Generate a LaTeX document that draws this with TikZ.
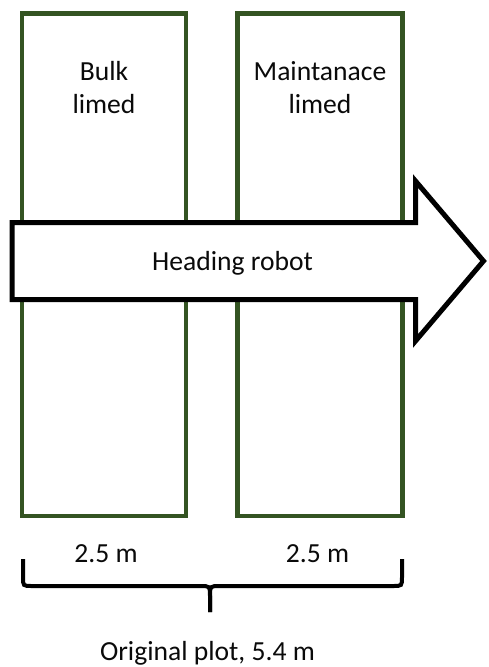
\documentclass[tikz,border=0pt]{standalone}
\usepackage{fontspec}
\setmainfont{Carlito}
\definecolor{plotgreen}{RGB}{52,84,34}
\definecolor{inkblack}{RGB}{10,10,10}
\tikzset{
  plotbox/.style={draw=plotgreen, line width=4.6pt, fill=white},
  lbl/.style={font=\fontsize{27.6}{33}\selectfont, text=inkblack, inner sep=0pt, anchor=base},
  robotarrow/.style={draw=black, line width=5pt, fill=white, line join=miter, miter limit=10},
  bracepath/.style={draw=black, line width=4pt}
}
\begin{document}
\begin{tikzpicture}[x=1pt, y=-1pt]
  \useasboundingbox (0,0) rectangle (488,667);

  % the two plots
  \draw[plotbox] (22,13.5) rectangle (186,516);
  \draw[plotbox] (237.5,13.5) rectangle (402.5,516);
  \node[lbl] (bulk1) at (104,80) {Bulk};
  \node[lbl] (bulk2) at (104,113) {limed};
  \node[lbl] (maint1) at (320,80) {Maintanace};
  \node[lbl] (maint2) at (320,113) {limed};

  % driving direction of the robot
  \coordinate (a1) at (12,222.5);
  \coordinate (a2) at (415.5,222.5);
  \coordinate (a3) at (415.5,181);
  \coordinate (tip) at (483.5,261);
  \coordinate (a5) at (415.5,341);
  \coordinate (a6) at (415.5,299.5);
  \coordinate (a7) at (12,299.5);
  \draw[robotarrow] (a1) -- (a2) -- (a3) -- (tip) -- (a5) -- (a6) -- (a7) -- cycle;
  \node[lbl] (heading) at (232.5,270) {Heading robot};

  % widths
  \node[lbl] (w1) at (106,562) {2.5 m};
  \node[lbl] (w2) at (317.5,562) {2.5 m};

  % brace under both plots
  \coordinate (bl) at (23,559);
  \coordinate (br) at (402,559);
  \coordinate (bm) at (210,612);
  \draw[bracepath] (bl) -- (23,577) .. controls (23,586) .. (32,586)
      -- (200,586) .. controls (210,586) .. (210,596) -- (bm);
  \draw[bracepath] (br) -- (402,577) .. controls (402,586) .. (393,586)
      -- (220,586) .. controls (210,586) .. (210,596) -- (bm);
  \node[lbl] (total) at (207.5,660) {Original plot, 5.4 m};
\end{tikzpicture}
\end{document}
